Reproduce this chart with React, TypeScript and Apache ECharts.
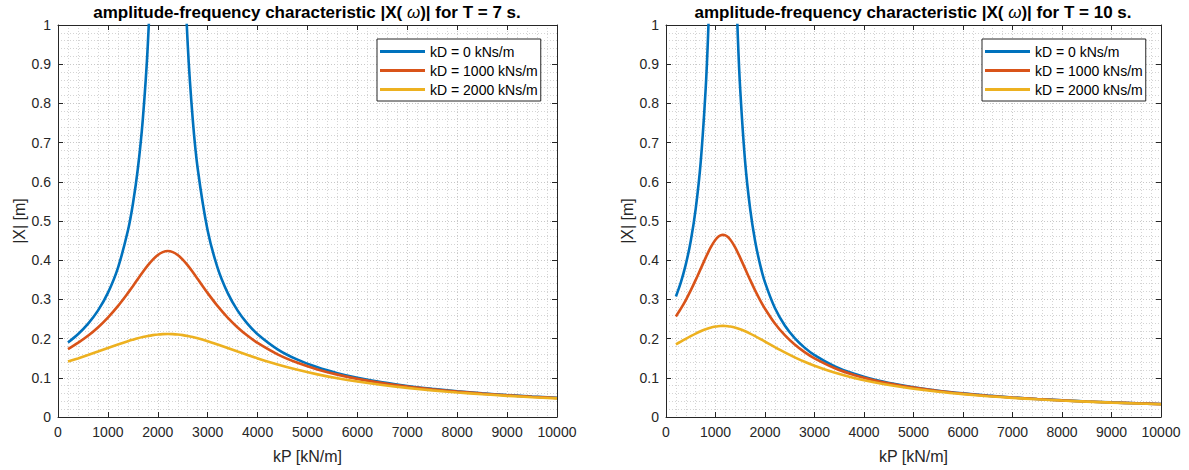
import React, { useEffect, useRef } from "react";
import * as echarts from "echarts";

// ---- data ----
const seriesNames = ["kD = 0 kNs/m", "kD = 1000 kNs/m", "kD = 2000 kNs/m"];
const seriesColors = ["#0072BD", "#D95319", "#EDB120"];

const xTicks = [0, 1000, 2000, 3000, 4000, 5000, 6000, 7000, 8000, 9000, 10000];
const yTicks = [0, 0.1, 0.2, 0.3, 0.4, 0.5, 0.6, 0.7, 0.8, 0.9, 1];

// T = 7 s
const kPLeft = [200, 400, 600, 800, 1000, 1200, 1400, 1500, 1600, 1700, 1800, 1900, 2000, 2100, 2200, 2300, 2400, 2500, 2600, 2700, 2800, 3000, 3200, 3400, 3600, 3800, 4000, 4400, 4800, 5200, 5600, 6000, 6500, 7000, 7500, 8000, 8500, 9000, 9500, 10000];
const kd0Left = [0.19, 0.2111, 0.2375, 0.2714, 0.3167, 0.38, 0.475, 0.5429, 0.6333, 0.76, 0.95, 1.267, 1.9, 3.8, null, 3.8, 1.9, 1.267, 0.95, 0.76, 0.6333, 0.475, 0.38, 0.3167, 0.2714, 0.2375, 0.2111, 0.1727, 0.1462, 0.1267, 0.1118, 0.1, 0.0884, 0.0792, 0.0717, 0.0655, 0.0603, 0.0559, 0.0521, 0.0487];
const kd1000Left = [0.1733, 0.1889, 0.2071, 0.2285, 0.2536, 0.2828, 0.316, 0.3338, 0.352, 0.3698, 0.3867, 0.4015, 0.4132, 0.4207, 0.4233, 0.4207, 0.4132, 0.4015, 0.3867, 0.3698, 0.352, 0.316, 0.2828, 0.2536, 0.2285, 0.2071, 0.1889, 0.1599, 0.1382, 0.1214, 0.1081, 0.0973, 0.0865, 0.0778, 0.0707, 0.0647, 0.0597, 0.0554, 0.0517, 0.0484];
const kd2000Left = [0.1414, 0.1495, 0.158, 0.1669, 0.176, 0.1849, 0.1934, 0.1972, 0.2008, 0.2039, 0.2066, 0.2088, 0.2104, 0.2114, 0.2117, 0.2114, 0.2104, 0.2088, 0.2066, 0.2039, 0.2008, 0.1934, 0.1849, 0.176, 0.1669, 0.158, 0.1495, 0.1338, 0.1203, 0.1087, 0.0988, 0.0904, 0.0816, 0.0742, 0.0679, 0.0626, 0.058, 0.054, 0.0505, 0.0475];

// T = 10 s
const kPRight = [200, 300, 400, 500, 600, 700, 800, 850, 900, 950, 1000, 1050, 1100, 1150, 1200, 1250, 1300, 1350, 1400, 1450, 1500, 1600, 1700, 1800, 1900, 2000, 2200, 2400, 2600, 2800, 3000, 3400, 3800, 4200, 4600, 5000, 5500, 6000, 6500, 7000, 7500, 8000, 8500, 9000, 9500, 10000];
const kd0Right = [0.3074, 0.3435, 0.3893, 0.4492, 0.5309, 0.6489, 0.8343, 0.9733, 1.168, 1.46, 1.947, 2.92, 5.84, null, 5.84, 2.92, 1.947, 1.46, 1.168, 0.9733, 0.8343, 0.6489, 0.5309, 0.4492, 0.3893, 0.3435, 0.2781, 0.2336, 0.2014, 0.177, 0.1578, 0.1298, 0.1102, 0.0957, 0.0846, 0.0758, 0.0671, 0.0602, 0.0546, 0.0499, 0.046, 0.0426, 0.0397, 0.0372, 0.035, 0.033];
const kd1000Right = [0.2564, 0.2763, 0.2984, 0.323, 0.3497, 0.3778, 0.406, 0.4194, 0.4318, 0.4428, 0.452, 0.459, 0.4633, 0.4647, 0.4633, 0.459, 0.452, 0.4428, 0.4318, 0.4194, 0.406, 0.3778, 0.3497, 0.323, 0.2984, 0.2763, 0.2386, 0.2087, 0.1848, 0.1654, 0.1495, 0.125, 0.1072, 0.0938, 0.0833, 0.0749, 0.0664, 0.0597, 0.0542, 0.0496, 0.0458, 0.0424, 0.0396, 0.0371, 0.0349, 0.0329];
const kd2000Right = [0.1854, 0.1925, 0.1995, 0.2064, 0.2129, 0.2188, 0.2239, 0.226, 0.2279, 0.2295, 0.2307, 0.2316, 0.2322, 0.2324, 0.2322, 0.2316, 0.2307, 0.2295, 0.2279, 0.226, 0.2239, 0.2188, 0.2129, 0.2064, 0.1995, 0.1925, 0.1783, 0.1647, 0.1522, 0.1408, 0.1306, 0.1133, 0.0996, 0.0885, 0.0795, 0.0721, 0.0645, 0.0583, 0.0531, 0.0488, 0.0451, 0.0419, 0.0392, 0.0367, 0.0346, 0.0327];

const titleLeft = "amplitude-frequency characteristic |X( {w|ω})| for T = 7 s.";
const titleRight = "amplitude-frequency characteristic |X( {w|ω})| for T = 10 s.";
const xName = "kP [kN/m]";
const yName = "|X| [m]";

const FONT = "'Liberation Sans', Arial, Helvetica, sans-serif";
const AX = "#262626";

const pairs = (xs: number[], ys: (number | null)[]) => xs.map((x, i) => [x, ys[i]]);

const grids = [
  { left: 58, top: 25, width: 499, height: 392 },
  { left: 666, top: 25, width: 495, height: 392 },
];

function buildOption() {
  const xMin = xTicks[0];
  const xMax = xTicks[xTicks.length - 1];
  const xInt = xTicks[1] - xTicks[0];
  const yMin = yTicks[0];
  const yMax = yTicks[yTicks.length - 1];
  const yInt = 0.1;

  const gridDots = { show: true, lineStyle: { color: "#c8c8c8", type: [1, 2], width: 1 } };
  const minorDots = { show: true, lineStyle: { color: "#d4d4d4", type: [1, 2], width: 1 } };

  const mainX = (gridIndex: number) => ({
    type: "value",
    gridIndex,
    min: xMin,
    max: xMax,
    interval: xInt,
    position: "bottom",
    name: xName,
    nameLocation: "middle",
    nameGap: 31,
    nameTextStyle: { fontSize: 16, color: AX, fontFamily: FONT },
    axisLine: { show: true, onZero: false, lineStyle: { color: AX, width: 1 } },
    axisTick: { show: true, inside: true, length: 5, lineStyle: { color: AX } },
    axisLabel: { fontSize: 14, color: AX, fontFamily: FONT, margin: 8, formatter: (v: number) => String(v) },
    splitLine: gridDots,
    minorTick: { show: false, splitNumber: 5 },
    minorSplitLine: minorDots,
  });
  const topX = (gridIndex: number) => ({
    type: "value",
    gridIndex,
    min: xMin,
    max: xMax,
    interval: xInt,
    position: "top",
    axisLine: { show: true, onZero: false, lineStyle: { color: AX, width: 1 } },
    axisTick: { show: true, inside: true, length: 5, lineStyle: { color: AX } },
    axisLabel: { show: false },
    splitLine: { show: false },
  });
  const mainY = (gridIndex: number) => ({
    type: "value",
    gridIndex,
    min: yMin,
    max: yMax,
    interval: yInt,
    position: "left",
    name: yName,
    nameLocation: "middle",
    nameGap: 31,
    nameTextStyle: { fontSize: 16, color: AX, fontFamily: FONT },
    axisLine: { show: true, onZero: false, lineStyle: { color: AX, width: 1 } },
    axisTick: { show: true, inside: true, length: 5, lineStyle: { color: AX } },
    axisLabel: { fontSize: 14, color: AX, fontFamily: FONT, margin: 7, formatter: (v: number) => String(Math.round(v * 10) / 10) },
    splitLine: gridDots,
    minorTick: { show: false, splitNumber: 5 },
    minorSplitLine: minorDots,
  });
  const rightY = (gridIndex: number) => ({
    type: "value",
    gridIndex,
    min: yMin,
    max: yMax,
    interval: yInt,
    position: "right",
    axisLine: { show: true, onZero: false, lineStyle: { color: AX, width: 1 } },
    axisTick: { show: true, inside: true, length: 5, lineStyle: { color: AX } },
    axisLabel: { show: false },
    splitLine: { show: false },
  });

  const dataLeft = [kd0Left, kd1000Left, kd2000Left];
  const dataRight = [kd0Right, kd1000Right, kd2000Right];
  const series: any[] = [];
  const addSeries = (xIdx: number, xs: number[], sets: (number | null)[][]) => {
    seriesNames.forEach((name, i) => {
      series.push({
        type: "line",
        name,
        xAxisIndex: xIdx,
        yAxisIndex: xIdx,
        data: pairs(xs, sets[i]),
        showSymbol: false,
        clip: true,
        connectNulls: false,
        smooth: 0.3,
        color: seriesColors[i],
        lineStyle: { width: 2.6, color: seriesColors[i] },
        z: 3 + i,
      });
    });
  };
  addSeries(0, kPLeft, dataLeft);
  addSeries(2, kPRight, dataRight);

  const legendBase = {
    orient: "vertical",
    top: 39,
    itemWidth: 45,
    itemHeight: 3,
    itemGap: 4,
    icon: "rect",
    padding: [5, 3, 4, 3],
    borderColor: AX,
    borderWidth: 1,
    backgroundColor: "#ffffff",
    textStyle: { fontSize: 14, color: "#000", fontFamily: FONT, lineHeight: 15 },
    data: seriesNames,
    selectedMode: false,
  };

  const titleStyle = (text: string) => ({
    text,
    font: `bold 17px ${FONT}`,
    fill: "#000",
    align: "center",
    verticalAlign: "middle",
    rich: {
      w: { fontStyle: "italic", fontWeight: "normal", fontSize: 17, fontFamily: FONT, fill: "#000" },
    },
  });

  return {
    animation: false,
    backgroundColor: "#ffffff",
    grid: grids.map((g) => ({ ...g, containLabel: false })),
    xAxis: [mainX(0), topX(0), mainX(1), topX(1)],
    yAxis: [mainY(0), rightY(0), mainY(1), rightY(1)],
    legend: [
      { ...legendBase, left: 377 },
      { ...legendBase, left: 982 },
    ],
    graphic: [
      { type: "text", x: 307, y: 12, style: titleStyle(titleLeft), z: 10 },
      { type: "text", x: 913, y: 12, style: titleStyle(titleRight), z: 10 },
    ],
    series,
  };
}

export default function App() {
  const ref = useRef<HTMLDivElement>(null);
  useEffect(() => {
    if (!ref.current) return;
    const chart = echarts.init(ref.current, undefined, { renderer: "svg" });
    chart.setOption(buildOption() as any);
    return () => chart.dispose();
  }, []);
  return (
    <div
      ref={ref}
      style={{ position: "fixed", left: 0, top: 0, width: 1189, height: 470, background: "#fff" }}
    />
  );
}
